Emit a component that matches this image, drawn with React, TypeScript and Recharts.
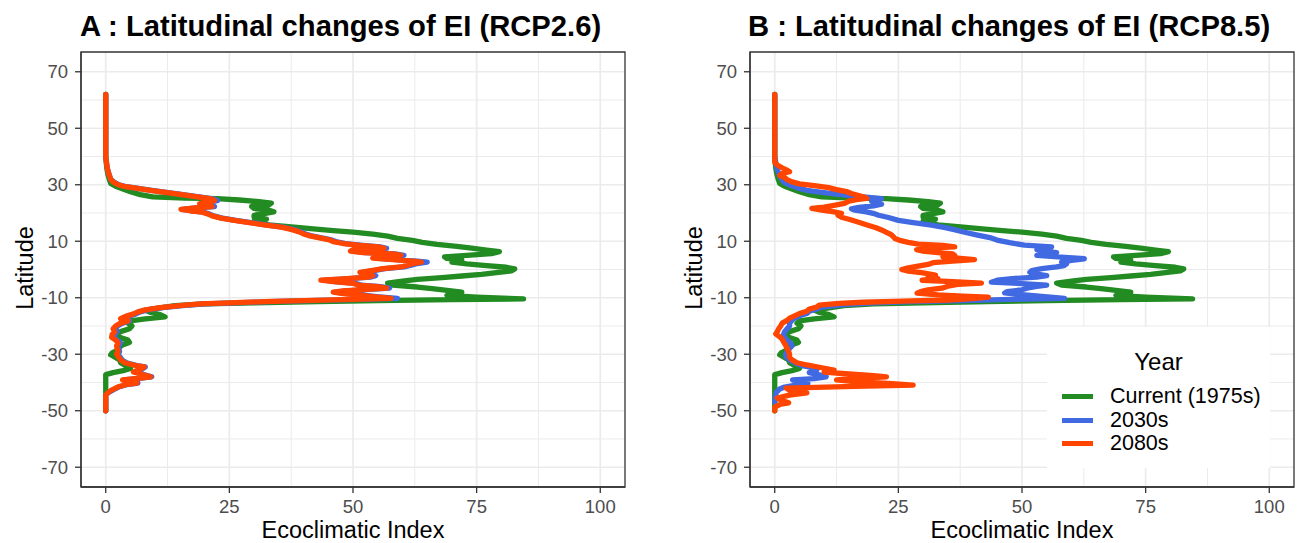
import React from 'react';
import {
  ScatterChart,
  Scatter,
  XAxis,
  YAxis,
  CartesianGrid,
  ReferenceArea,
  Legend,
} from 'recharts';

const FONT = '"Liberation Sans", Arial, Helvetica, sans-serif';

// axis ticks and limits
const EI_DOMAIN = [-5, 105];
const LAT_DOMAIN = [-77, 77];
const EI_TICKS = [0, 25, 50, 75, 100];
const EI_MINOR = [12.5, 37.5, 62.5, 87.5];
const LAT_TICKS = [70, 50, 30, 10, -10, -30, -50, -70];
const LAT_MINOR = [60, 40, 20, 0, -20, -40, -60];

const SERIES_NAMES = ['Current (1975s)', '2030s', '2080s'];
const SERIES_COLORS = ['#228B22', '#4169E1', '#FF4500'];

// [latitude, EI]
const current: [number, number][] = [
  [62, 0], [40, 0], [36, 0.2], [34, 0.4], [32, 0.7], [30.5, 1], [29.5, 2], [28.5, 3.5],
  [27.5, 5], [26.5, 7], [25.7, 9.5], [25.3, 16], [25.1, 22.5], [24.6, 27], [24, 31],
  [23.5, 33.5], [22.9, 33], [22.3, 29.5], [21.6, 30], [21, 33], [20.4, 34], [19.8, 32],
  [19.2, 30], [18.5, 30], [17.8, 32.5], [17.1, 30], [16.5, 31], [15.8, 33], [15.2, 37],
  [14.4, 42], [13.8, 46], [13.2, 50], [12.5, 54], [11.8, 57], [11, 59], [10.3, 62],
  [9.6, 64], [8.9, 67], [8.2, 71], [7.6, 74], [6.9, 77], [6.3, 79.6], [5.6, 78], [5, 73],
  [4.5, 68.5], [3.9, 69], [3.3, 72], [2.6, 70], [2, 73], [1.4, 77], [0.8, 81], [0.2, 82.7],
  [-0.5, 82], [-1.1, 79], [-1.7, 76], [-2.3, 72], [-2.9, 68], [-3.5, 63], [-4.1, 60],
  [-4.8, 57], [-5.5, 58], [-6.2, 63], [-6.8, 66], [-7.4, 69], [-8, 72], [-8.6, 70],
  [-9.2, 69], [-9.8, 75], [-10.4, 84.5], [-10.7, 70], [-11, 55], [-11.4, 43], [-11.8, 30],
  [-12.2, 20], [-12.8, 14], [-13.6, 11], [-14.4, 8], [-15.2, 9], [-16, 11], [-16.8, 12],
  [-17.5, 8], [-18.2, 5], [-19, 4.5], [-20, 5.3], [-21, 4.8], [-22, 3], [-23, 2.3],
  [-24, 2.8], [-25, 4.5], [-25.8, 4.8], [-26.6, 3.5], [-27.5, 2.8], [-28.5, 2.5],
  [-29.5, 1.3], [-30.2, 1], [-31, 1.8], [-32, 2.8], [-33, 3], [-34, 4], [-35, 5],
  [-35.8, 3.5], [-36.5, 1.5], [-37.2, 0], [-50, 0],
];

const rcp26_2030: [number, number][] = [
  [62, 0], [40, 0], [36, 0.3], [34, 0.6], [32, 1], [31, 1.6], [30, 2.7], [29.3, 4.2],
  [28.7, 6.6], [28, 9.3], [27.3, 12.3], [26.6, 15.3], [26, 17.8], [25.4, 20.3], [24.9, 22],
  [24.4, 22.6], [23.8, 20.5], [23.3, 19.5], [22.8, 21.3], [22.3, 22], [21.8, 18.5],
  [21.3, 15.5], [20.8, 17.3], [20.3, 19.8], [19.7, 20.9], [19, 21.8], [18.2, 23.6],
  [17.4, 26.3], [16.6, 29.4], [15.8, 32.4], [15, 35.8], [14.2, 38], [13.4, 39.4],
  [12.6, 40.4], [12, 41.4], [11.3, 43.4], [10.6, 45.4], [9.9, 46.5], [9.2, 48.5],
  [8.6, 51.5], [8, 55.5], [7.5, 56.8], [7, 50.5], [6.5, 50], [6, 52.5], [5.5, 58.5],
  [5, 60.3], [4.5, 55.5], [4, 54.6], [3.5, 58.8], [3, 63], [2.6, 65], [2.1, 63],
  [1.5, 61.8], [0.9, 60.3], [0.3, 56.5], [-0.3, 54.5], [-1, 52], [-1.6, 53.6], [-2.2, 54.6],
  [-2.7, 53.5], [-3.3, 48.6], [-3.8, 44.2], [-4.3, 46.5], [-4.9, 50.5], [-5.5, 51.6],
  [-6.1, 55.6], [-6.6, 57.4], [-7.1, 52.6], [-7.6, 48.6], [-8, 46.6], [-8.5, 48.6],
  [-9, 51.6], [-9.6, 54.8], [-10.2, 59], [-10.6, 51], [-11, 41], [-11.4, 33], [-11.8, 26],
  [-12.2, 20], [-12.8, 15.5], [-13.5, 11.5], [-14.3, 8.5], [-15, 7], [-15.8, 6],
  [-16.6, 4.5], [-17.4, 3.4], [-18.2, 4.8], [-19, 3.4], [-20, 2.4], [-21, 2], [-22, 2.3],
  [-23, 1.8], [-24, 1.6], [-25, 2.4], [-26, 3], [-27, 2.6], [-28, 2.6], [-29, 2.8],
  [-30, 2.5], [-31, 2.9], [-32, 3.3], [-33, 4.2], [-34, 6.3], [-34.5, 8], [-35.3, 7.3],
  [-36.3, 5.9], [-37, 7.3], [-38, 9.3], [-38.6, 6.3], [-39.1, 3.7], [-39.7, 5.3],
  [-40.2, 6.5], [-40.8, 4.2], [-41.5, 2.8], [-42.6, 1.5], [-43.5, 0.6], [-44.5, 0], [-50, 0],
];

const rcp26_2080: [number, number][] = [
  [62, 0], [40, 0], [36, 0.3], [34, 0.6], [32, 1], [31, 1.5], [30, 2.5], [29.3, 4],
  [28.7, 6.4], [28, 9], [27.3, 12], [26.6, 15], [26, 17.5], [25.4, 20], [24.9, 21.5],
  [24.4, 22], [23.8, 20], [23.3, 19], [22.8, 21], [22.3, 21.5], [21.8, 18], [21.3, 15.2],
  [20.8, 17], [20.3, 19.5], [19.7, 20.6], [19, 21.5], [18.2, 23.3], [17.4, 26], [16.6, 29],
  [15.8, 32], [15, 35.5], [14.2, 37.5], [13.4, 39], [12.6, 40], [12, 41], [11.3, 43],
  [10.6, 45], [9.9, 46], [9.2, 48], [8.6, 51], [8, 55], [7.5, 56.3], [7, 50], [6.5, 49.5],
  [6, 52], [5.5, 58], [5, 59.7], [4.5, 55], [4, 54], [3.5, 58], [3, 62], [2.6, 63.8],
  [2.1, 62], [1.5, 61], [0.9, 59.7], [0.3, 56], [-0.3, 54], [-1, 51.4], [-1.6, 53],
  [-2.2, 54], [-2.7, 53], [-3.3, 48], [-3.8, 43.5], [-4.3, 46], [-4.9, 50], [-5.5, 51],
  [-6.1, 55], [-6.6, 56.8], [-7.1, 52], [-7.6, 48], [-8, 46], [-8.5, 48], [-9, 51],
  [-9.6, 54], [-10.2, 57.7], [-10.6, 50], [-11, 40], [-11.4, 32], [-11.8, 25], [-12.2, 19],
  [-12.8, 15], [-13.5, 11], [-14.3, 8], [-15, 6.5], [-15.8, 5.5], [-16.6, 4], [-17.4, 3],
  [-18.2, 4.5], [-19, 3], [-20, 2], [-21, 1.5], [-22, 1.8], [-23, 1.3], [-24, 1.2],
  [-25, 2], [-26, 2.5], [-27, 2.2], [-28, 2.3], [-29, 2.5], [-30, 2.2], [-31, 2.6],
  [-32, 3], [-33, 3.8], [-34, 6], [-34.5, 7.8], [-35.3, 7], [-36.3, 5.6], [-37, 7],
  [-38, 9.1], [-38.6, 6], [-39.1, 3.4], [-39.7, 5], [-40.2, 6.3], [-40.8, 4], [-41.5, 2.6],
  [-42.6, 1.3], [-43.5, 0.5], [-44.5, 0], [-50, 0],
];

const rcp85_2030: [number, number][] = [
  [62, 0], [40, 0], [37, 0.3], [35, 0.6], [33, 1], [31, 1.8], [30, 2.8], [29, 4.5],
  [28, 6.5], [27.3, 9.5], [26.6, 13], [26, 16], [25.5, 19], [25.1, 21.6], [24.6, 21],
  [24.1, 19.6], [23.6, 20.5], [23.1, 21.6], [22.5, 20], [22, 17], [21.5, 15.5], [21, 16.2],
  [20.4, 18.5], [19.9, 19.9], [19.2, 21], [18.4, 23], [17.4, 25], [16.6, 28], [15.7, 31.7],
  [14.8, 34.5], [14, 36.5], [13.2, 38.4], [12.2, 41], [11.3, 43.5], [10.3, 45.2],
  [9.5, 47.5], [8.6, 50.5], [8, 56], [7.5, 55], [7, 53], [6.5, 54.6], [6, 57], [5.5, 56],
  [5, 53], [4.4, 58], [3.8, 62.6], [3.2, 60], [2.6, 58], [2, 59], [1.4, 58.5], [0.9, 57],
  [0.3, 54], [-0.4, 52], [-1, 51.6], [-1.6, 53], [-2.2, 55], [-2.7, 53], [-3.2, 48],
  [-3.8, 45], [-4.5, 43.8], [-5, 50], [-5.5, 55], [-6, 53], [-6.6, 51], [-7.2, 50],
  [-7.8, 47], [-8.3, 46.5], [-8.9, 50], [-9.5, 54], [-10.2, 58.6], [-10.6, 48], [-11, 38],
  [-11.4, 28], [-11.8, 20], [-12.4, 14], [-13.3, 9.5], [-14, 8.5], [-14.8, 7], [-15.6, 6.5],
  [-16.4, 5], [-17.2, 4], [-18, 3.5], [-19, 3], [-20, 3], [-21, 2.5], [-22, 2], [-23, 1.8],
  [-24, 2], [-25, 2.5], [-26, 3.2], [-27, 3.5], [-28, 3], [-29, 2.5], [-30, 2.2],
  [-31, 2.3], [-32, 3], [-33, 4], [-34, 5.5], [-34.8, 8], [-35.6, 8.5], [-36.5, 7],
  [-37.3, 9], [-38, 10.4], [-38.6, 8], [-39.1, 3.6], [-39.7, 5], [-40.4, 6.7], [-41, 4],
  [-41.6, 2], [-42.3, 1], [-43.5, 0.3], [-47, 0],
];

const rcp85_2080: [number, number][] = [
  [62, 0], [38, 0], [37, 0.5], [36, 1.5], [35.2, 2.5], [34.6, 3], [34, 1.5], [33.3, 1],
  [32.6, 2], [31.8, 2.5], [31, 3.5], [30.3, 5], [29.7, 8], [29, 10.9], [28.3, 12.5],
  [27.6, 14.5], [26.9, 15.5], [26.2, 17], [25.6, 18.2], [25.2, 18.6], [24.7, 16.5],
  [24.2, 15], [23.4, 14.1], [22.7, 12], [22.1, 10], [21.6, 7.5], [21, 9.5], [20.4, 12],
  [19.9, 13.5], [19.2, 12.8], [18.5, 13.5], [17.8, 15], [17, 16.5], [16.4, 17.6],
  [15.6, 19], [14.8, 20.5], [14, 21.6], [13.2, 22.5], [12.4, 23.5], [11.6, 24], [11, 24.3],
  [10.2, 25.5], [9.6, 27], [9, 29], [8.5, 34], [8, 36.4], [7.5, 30], [7, 28.7], [6.5, 30],
  [6, 33], [5.5, 36], [5, 36.4], [4.5, 34], [4, 37], [3.5, 40.4], [3, 36], [2.4, 32],
  [1.8, 31], [1.2, 29], [0.6, 27], [0, 25.7], [-0.6, 27], [-1.2, 30], [-2, 32.5],
  [-2.6, 31], [-3.2, 33], [-3.8, 29.8], [-4.3, 36], [-4.8, 41.8], [-5.3, 37], [-5.9, 35],
  [-6.6, 33.8], [-7.2, 31], [-7.8, 29.5], [-8.4, 28.8], [-9, 33], [-9.4, 38], [-9.8, 43.2],
  [-10.3, 40], [-10.8, 35], [-11.2, 26], [-11.6, 18], [-12, 13], [-12.6, 9], [-13.3, 8.5],
  [-14, 7], [-14.8, 6.5], [-15.6, 5], [-16.4, 4], [-17.2, 3], [-18, 2.5], [-19, 1.5],
  [-20, 1.2], [-21, 0.8], [-22, 0.5], [-22.8, 0.2], [-23.8, 1], [-24.6, 1.5], [-25.7, 1.8],
  [-26.8, 2.2], [-28, 2.5], [-29, 2.8], [-30, 3], [-31, 3], [-32, 3.5], [-33, 4.5],
  [-33.8, 6.5], [-34.6, 9], [-35.6, 12], [-36.3, 10], [-37, 15], [-37.6, 20], [-38, 22.6],
  [-38.5, 17], [-39.1, 12.5], [-39.7, 16], [-40.3, 23], [-40.9, 28], [-41.4, 16], [-42, 2.3],
  [-42.8, 3], [-43.7, 6.5], [-44.5, 3], [-45.5, 0.5], [-46.4, 1.5], [-47.2, 2.8], [-47.8, 1],
  [-48.7, 0], [-50, 0],
];

const toPoints = (rows: [number, number][]) => rows.map(([lat, ei]) => ({ lat, ei }));

const NoDot = () => null;

const YearLegend = () => (
  <div
    style={{
      background: '#fff',
      width: 223,
      height: 141,
      boxSizing: 'border-box',
      fontFamily: FONT,
      color: '#000',
    }}
  >
    <div style={{ textAlign: 'center', fontSize: 24, lineHeight: '24px', paddingTop: 23 }}>Year</div>
    <div style={{ paddingTop: 11 }}>
      {SERIES_NAMES.map((name, i) => (
        <div key={name} style={{ display: 'flex', alignItems: 'center', height: 23.5 }}>
          <div style={{ width: 31, height: 5, background: SERIES_COLORS[i], marginLeft: 15, marginRight: 17 }} />
          <span style={{ fontSize: 21.5, lineHeight: '23px' }}>{name}</span>
        </div>
      ))}
    </div>
  </div>
);

interface PanelProps {
  series: [number, number][][];
  width: number;
  showLegend?: boolean;
}

function Panel({ series, width, showLegend }: PanelProps) {
  return (
    <ScatterChart width={width} height={543} margin={{ top: 52, right: width - 625, bottom: 0, left: 0 }}>
      <CartesianGrid stroke="#EBEBEB" strokeWidth={1} horizontalValues={LAT_MINOR} verticalValues={EI_MINOR} />
      <CartesianGrid stroke="#EBEBEB" strokeWidth={1.7} horizontalValues={LAT_TICKS} verticalValues={EI_TICKS} />
      <XAxis
        type="number"
        dataKey="ei"
        domain={EI_DOMAIN}
        ticks={EI_TICKS}
        allowDataOverflow
        height={56}
        tickSize={6}
        tickMargin={7}
        axisLine={{ stroke: '#333', strokeWidth: 1.3 }}
        tickLine={{ stroke: '#333', strokeWidth: 1.3 }}
        tick={{ fontSize: 18.5, fill: '#4D4D4D', fontFamily: FONT }}
      />
      <YAxis
        type="number"
        dataKey="lat"
        domain={LAT_DOMAIN}
        ticks={LAT_TICKS}
        allowDataOverflow
        width={81}
        tickSize={6}
        tickMargin={7}
        axisLine={{ stroke: '#333', strokeWidth: 1.3 }}
        tickLine={{ stroke: '#333', strokeWidth: 1.3 }}
        tick={{ fontSize: 18.5, fill: '#4D4D4D', fontFamily: FONT }}
      />
      {/* panel border */}
      <ReferenceArea
        x1={EI_DOMAIN[0]}
        x2={EI_DOMAIN[1]}
        y1={LAT_DOMAIN[0]}
        y2={LAT_DOMAIN[1]}
        fill="none"
        fillOpacity={0}
        stroke="#333"
        strokeWidth={1.3}
        strokeOpacity={1}
        ifOverflow="visible"
      />
      {series.map((rows, i) => (
        <Scatter
          key={SERIES_NAMES[i]}
          name={SERIES_NAMES[i]}
          data={toPoints(rows)}
          fill="none"
          shape={NoDot}
          line={{
            stroke: SERIES_COLORS[i],
            strokeWidth: 5.3,
            strokeLinejoin: 'round',
            strokeLinecap: 'round',
          }}
          isAnimationActive={false}
        />
      ))}
      {showLegend && (
        <Legend
          layout="vertical"
          align="center"
          verticalAlign="middle"
          content={() => <YearLegend />}
          wrapperStyle={{ left: 378, top: 327, width: 223, height: 141 }}
        />
      )}
    </ScatterChart>
  );
}

export default function App() {
  return (
    <div
      style={{
        position: 'absolute',
        left: 0,
        top: 0,
        width: 1298,
        height: 543,
        background: '#fff',
        fontFamily: FONT,
        overflow: 'hidden',
      }}
    >
      <svg width={1298} height={543} style={{ position: 'absolute', left: 0, top: 0 }}>
        <g fontFamily={FONT}>
          <text x={80} y={36} fontSize={29.2} fontWeight="bold" fill="#000">
            A : Latitudinal changes of EI (RCP2.6)
          </text>
          <text x={748} y={36} fontSize={29.2} fontWeight="bold" fill="#000">
            B : Latitudinal changes of EI (RCP8.5)
          </text>
          <text x={353} y={538} fontSize={23.5} textAnchor="middle" fill="#000">
            Ecoclimatic Index
          </text>
          <text x={1022} y={538} fontSize={23.5} textAnchor="middle" fill="#000">
            Ecoclimatic Index
          </text>
          <text transform="translate(33,268) rotate(-90)" fontSize={23.5} textAnchor="middle" fill="#000">
            Latitude
          </text>
          <text transform="translate(702,268) rotate(-90)" fontSize={23.5} textAnchor="middle" fill="#000">
            Latitude
          </text>
        </g>
      </svg>
      <div style={{ position: 'absolute', left: 0, top: 0 }}>
        <Panel series={[current, rcp26_2030, rcp26_2080]} width={649} />
      </div>
      <div style={{ position: 'absolute', left: 669, top: 0 }}>
        <Panel series={[current, rcp85_2030, rcp85_2080]} width={629} showLegend />
      </div>
    </div>
  );
}
